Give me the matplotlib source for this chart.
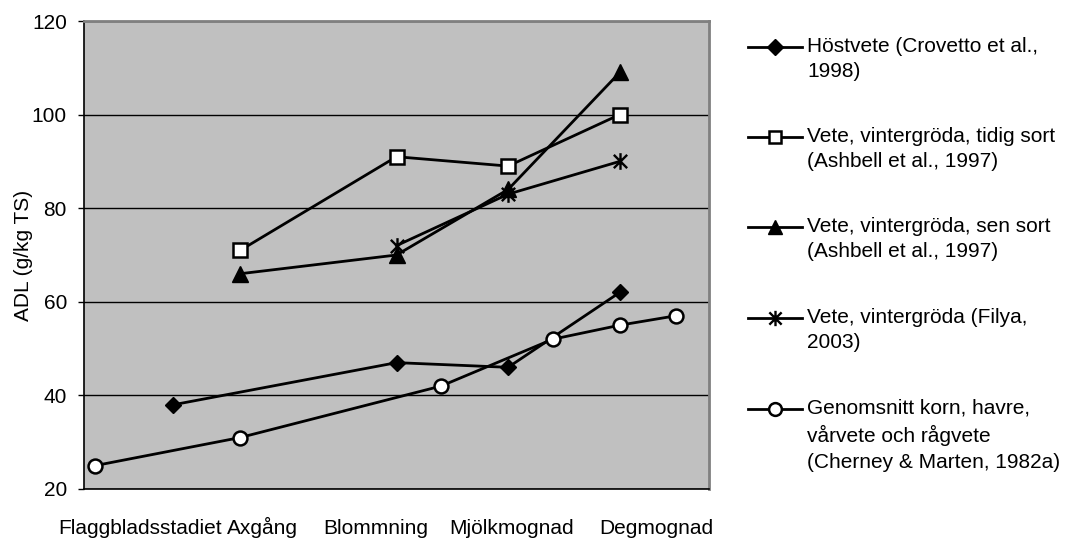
import matplotlib
matplotlib.use("Agg")
import matplotlib.pyplot as plt
from matplotlib.path import Path
from matplotlib.lines import Line2D

plt.rcParams['font.family'] = ['Liberation Sans', 'DejaVu Sans']

# ---- data ----
stage_labels = ["Flaggbladsstadiet", "Axgång", "Blommning", "Mjölkmognad", "Degmognad"]
stage_label_pos = [2.5, 8.0, 13.05, 19.15, 25.65]

hostvete_x = [4, 14, 19, 24]
hostvete_y = [38, 47, 46, 62]

tidig_x = [7, 14, 19, 24]
tidig_y = [71, 91, 89, 100]

sen_x = [7, 14, 19, 24]
sen_y = [66, 70, 84, 109]

filya_x = [14, 19, 24]
filya_y = [72, 83, 90]

genomsnitt_x = [0.5, 7, 16, 21, 24, 26.5]
genomsnitt_y = [25, 31, 42, 52, 55, 57]

series_labels = [
    "Höstvete (Crovetto et al.,\n1998)",
    "Vete, vintergröda, tidig sort\n(Ashbell et al., 1997)",
    "Vete, vintergröda, sen sort\n(Ashbell et al., 1997)",
    "Vete, vintergröda (Filya,\n2003)",
    "Genomsnitt korn, havre,\nvårvete och rågvete\n(Cherney & Marten, 1982a)",
]
yticks = [20, 40, 60, 80, 100, 120]

# ---- styling ----
W, H = 1068, 538
FS = 15
star = Path([(0, -1), (0, 1), (-0.8, -0.8), (0.8, 0.8), (-0.8, 0.8), (0.8, -0.8)],
            [Path.MOVETO, Path.LINETO] * 3)

styles = [
    dict(marker='D', ms=8.5, mfc='black', mec='black', mew=1.0),
    dict(marker='s', ms=10, mfc='white', mec='black', mew=1.8),
    dict(marker='^', ms=11, mfc='black', mec='black', mew=1.0),
    dict(marker=star, ms=12, mfc='none', mec='black', mew=1.7),
    dict(marker='o', ms=10, mfc='white', mec='black', mew=1.8),
]
xs = [hostvete_x, tidig_x, sen_x, filya_x, genomsnitt_x]
ys = [hostvete_y, tidig_y, sen_y, filya_y, genomsnitt_y]

fig = plt.figure(figsize=(W / 100, H / 100), dpi=100)
ax = fig.add_axes([84 / W, 1 - 489 / H, (709 - 84) / W, (489 - 21) / H])
ax.set_facecolor('#C0C0C0')

for x, y, st in zip(xs, ys, styles):
    ax.plot(x, y, color='black', lw=2.0, zorder=3, clip_on=False, **st)

ax.set_xlim(0, 28)
ax.set_ylim(20, 120)
ax.set_yticks(yticks)
ax.set_yticklabels([str(v) for v in yticks], fontsize=FS)
ax.set_xticks(stage_label_pos)
ax.set_xticklabels(stage_labels, fontsize=FS)
for lab in ax.get_xticklabels():
    lab.set_verticalalignment('baseline')
ax.tick_params(axis='x', length=0, pad=32.5)
ax.tick_params(axis='y', length=4.3, width=1.0, pad=8, direction='out')
ax.yaxis.grid(True, color='black', lw=1.0)
ax.set_axisbelow(True)

for side in ('top', 'right'):
    ax.spines[side].set_color('#808080')
    ax.spines[side].set_linewidth(2.0)
for side in ('left', 'bottom'):
    ax.spines[side].set_color('black')
    ax.spines[side].set_linewidth(1.2)

ax.set_ylabel("ADL (g/kg TS)", fontsize=FS)
ax.yaxis.set_label_coords((33 - 84) / 625, 0.5)

# ---- legend (drawn manually so marker aligns with first text line) ----
entry_y = [47, 137, 227, 318, 409]
for lab, st, yc in zip(series_labels, styles, entry_y):
    fy = 1 - yc / H
    fig.add_artist(Line2D([748 / W, 802 / W], [fy, fy], color='black', lw=2.0,
                          transform=fig.transFigure))
    fig.add_artist(Line2D([775 / W], [fy], color='black', lw=0,
                          transform=fig.transFigure,
                          **{**st, 'ms': st['ms'] * 0.92}))
    fig.text(807 / W, 1 - (yc - 10) / H, lab, fontsize=FS, va='top', ha='left',
             linespacing=1.43)

fig.savefig("out.png", dpi=100, facecolor='white')
